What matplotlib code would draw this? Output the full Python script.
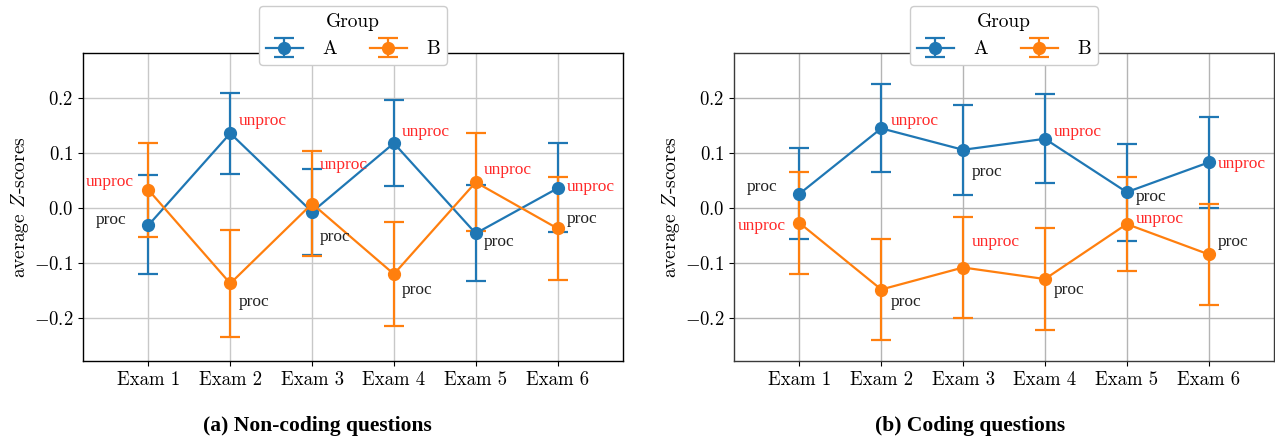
import numpy as np
import matplotlib
matplotlib.use("Agg")
import matplotlib.pyplot as plt

# ============================================================================
# DATA
# ============================================================================

EXAMS = ["Exam 1", "Exam 2", "Exam 3", "Exam 4", "Exam 5", "Exam 6"]

# which condition each group had in each exam (same in both panels)
STATUS_A = ["proc", "unproc", "proc", "unproc", "proc", "unproc"]
STATUS_B = ["unproc", "proc", "unproc", "proc", "unproc", "proc"]

# (a) non-coding questions
NC_A_MEAN = [-0.031, 0.136, -0.007, 0.118, -0.046, 0.036]
NC_A_LOW = [-0.120, 0.062, -0.085, 0.040, -0.132, -0.044]
NC_A_HIGH = [0.060, 0.209, 0.071, 0.196, 0.042, 0.118]
NC_B_MEAN = [0.033, -0.137, 0.008, -0.120, 0.047, -0.037]
NC_B_LOW = [-0.052, -0.235, -0.087, -0.215, -0.041, -0.130]
NC_B_HIGH = [0.118, -0.040, 0.104, -0.026, 0.136, 0.056]

# (b) coding questions
CO_A_MEAN = [0.026, 0.145, 0.106, 0.126, 0.029, 0.083]
CO_A_LOW = [-0.056, 0.065, 0.023, 0.046, -0.060, 0.001]
CO_A_HIGH = [0.109, 0.225, 0.188, 0.207, 0.116, 0.165]
CO_B_MEAN = [-0.027, -0.148, -0.108, -0.129, -0.029, -0.084]
CO_B_LOW = [-0.119, -0.240, -0.199, -0.222, -0.115, -0.177]
CO_B_HIGH = [0.065, -0.056, -0.017, -0.036, 0.057, 0.007]

# ============================================================================
# STYLE
# ============================================================================

plt.rcParams.update({
    "font.family": "serif",
    "font.serif": ["cmr10", "DejaVu Serif"],
    "mathtext.fontset": "cm",
    "axes.formatter.use_mathtext": True,
    "font.size": 13.5,
    "axes.labelsize": 13.5,
    "xtick.labelsize": 13.5,
    "ytick.labelsize": 13.5,
    "legend.fontsize": 14,
})

C_A, C_B = "#1f77b4", "#ff7f0e"
LABEL_COLOR = {"proc": "#222222", "unproc": "#ff2a2a"}
ANN_FONT = "Liberation Serif"

# label offsets in pixels from their point (dx, dy)
OFF_NC_A = [(-53, 5), (8, 12), (8, -25), (8, 11), (8, -9), (9, 1)]
OFF_NC_B = [(-63, 8), (8, -19), (8, 39), (8, -16), (8, 12), (9, 9)]
OFF_CO_A = [(-53, 7), (9, 7), (9, -22), (9, 7), (9, -5), (9, -2)]
OFF_CO_B = [(-62, -3), (9, -13), (9, 25), (9, -11), (9, 5), (9, 12)]

fig = plt.figure(figsize=(12.75, 4.42), dpi=100)
ax_l = fig.add_axes([83 / 1275, 1 - 361 / 442, 540 / 1275, 308 / 442])
ax_r = fig.add_axes([734 / 1275, 1 - 361 / 442, 540 / 1275, 308 / 442])


def draw_panel(ax, a_mean, a_low, a_high, b_mean, b_low, b_high,
               off_a, off_b, grid_color, spine_color):
    x = np.arange(len(EXAMS))
    for mean, low, high, color, name, status, offs in [
        (a_mean, a_low, a_high, C_A, "A", STATUS_A, off_a),
        (b_mean, b_low, b_high, C_B, "B", STATUS_B, off_b),
    ]:
        mean = np.asarray(mean)
        yerr = [mean - np.asarray(low), np.asarray(high) - mean]
        ax.errorbar(x, mean, yerr=yerr, color=color, marker="o", markersize=8.5,
                    linewidth=1.6, elinewidth=1.6, capsize=7, capthick=1.6,
                    label=name, zorder=3)
        for xi, yi, st, (dx, dy) in zip(x, mean, status, offs):
            ax.annotate(st, (xi, yi), xytext=(dx, dy), textcoords="offset pixels",
                        ha="left", va="center", fontsize=12.5, family=ANN_FONT,
                        color=LABEL_COLOR[st], zorder=4)

    ax.set_xticks(x)
    ax.set_xticklabels(EXAMS)
    ax.set_yticks([-0.2, -0.1, 0.0, 0.1, 0.2])
    ax.set_xlim(-0.8, 5.8)
    ax.set_ylim(-0.278, 0.282)
    ax.grid(True, color=grid_color, linewidth=1.0, zorder=0)
    ax.set_axisbelow(True)
    for s in ax.spines.values():
        s.set_color(spine_color)
        s.set_linewidth(1.0)
    ax.set_ylabel("average $Z$-scores", fontsize=14, labelpad=2)
    leg = ax.legend(title="Group", ncol=2, loc="upper center",
                    bbox_to_anchor=(0.5, 1.153), borderaxespad=0,
                    columnspacing=1.7, handlelength=1.9, handletextpad=1.0,
                    borderpad=0.35, labelspacing=0.5, fancybox=True,
                    framealpha=1.0, edgecolor="#cccccc")
    leg.get_title().set_fontsize(14)


draw_panel(ax_l, NC_A_MEAN, NC_A_LOW, NC_A_HIGH, NC_B_MEAN, NC_B_LOW, NC_B_HIGH,
           OFF_NC_A, OFF_NC_B, "#c8c8c8", "black")
draw_panel(ax_r, CO_A_MEAN, CO_A_LOW, CO_A_HIGH, CO_B_MEAN, CO_B_LOW, CO_B_HIGH,
           OFF_CO_A, OFF_CO_B, "#b4b4b4", "#3a3a3a")

fig.text(0.249, 0.036, "(a) Non-coding questions", ha="center", va="center",
         fontsize=15.5, fontweight="bold", family=ANN_FONT)
fig.text(0.761, 0.036, "(b) Coding questions", ha="center", va="center",
         fontsize=15.5, fontweight="bold", family=ANN_FONT)

fig.savefig("out.png", dpi=100)
